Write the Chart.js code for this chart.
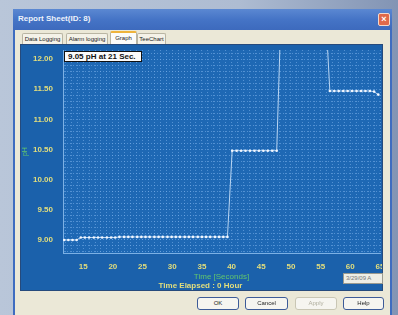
<!DOCTYPE html>
<html>
<head>
<meta charset="utf-8">
<script src="https://cdn.jsdelivr.net/npm/chart.js@4/dist/chart.umd.min.js"></script>
<style>
  html, body { margin: 0; padding: 0; }
  body {
    width: 398px; height: 315px; overflow: hidden; position: relative;
    background: linear-gradient(90deg, #b9c6d9 0%, #aebcd2 60%, #8294b4 100%);
    font-family: "Liberation Sans", Arial, sans-serif;
  }
  .abs { position: absolute; box-sizing: border-box; }
  #dlg { left: 13px; top: 9px; width: 379px; height: 320px; background: #ebe8d7;
         border: 2px solid #3e6cc0; border-top: none; }
  #titlebar { left: 13px; top: 9px; width: 379px; height: 21px;
              background: linear-gradient(180deg, #5b88d2 0%, #4574c6 50%, #3d6abd 100%); }
  #titlebar span { position: absolute; left: 5px; top: 5px; color: #eef3fb; font-size: 8px; font-weight: bold; }
  #close { left: 378px; top: 13px; width: 12px; height: 13px; background: #e0694a;
           border: 1px solid #f3d8cc; border-radius: 2px; color: #fff; font-size: 9px;
           font-weight: bold; text-align: center; line-height: 11px; }
  .tab { top: 33px; height: 11px; background: #f4f2e8; border: 1px solid #b9b5a3; border-bottom: none;
         font-size: 6px; color: #222; text-align: center; line-height: 10px; border-radius: 2px 2px 0 0; }
  .tab.on { top: 31px; height: 14px; background: #fcfcfa; border-top: 2px solid #efb43c; line-height: 11px; }
  #panel { left: 20px; top: 44px; width: 363px; height: 247px; background: #1b61ab;
           border: 1px solid #264a7c; overflow: hidden; }
  #chartBox { position: absolute; left: 0; top: 0; width: 370px; height: 246px; }
  #note { left: 64px; top: 51px; width: 78px; height: 11px; background: #fbfbfb; border: 1px solid #111;
          font-size: 8px; font-weight: bold; color: #111; line-height: 9px; padding-left: 3px; white-space: nowrap; }
  #stamp { left: 343px; top: 273px; width: 40px; height: 11px; background: #eeeee6; border: 1px solid #9a9a90;
           font-size: 6px; color: #777; line-height: 9px; padding-left: 2px; white-space: nowrap; overflow: hidden; }
  .btn { top: 297px; height: 13px; background: #f6f5f0; border: 1px solid #3d5b98; border-radius: 3px;
         font-size: 6px; color: #222; text-align: center; line-height: 11px; }
  .btn.off { color: #b0ae9e; border-color: #c9c6b4; }
</style>
</head>
<body>
<div class="abs" id="dlg"></div>
<div class="abs" id="titlebar"><span>Report Sheet(ID: 8)</span></div>
<div class="abs" id="close">×</div>
<div class="abs tab" style="left:22px;width:41px;">Data Logging</div>
<div class="abs tab" style="left:66px;width:42px;">Alarm logging</div>
<div class="abs tab on" style="left:110px;width:27px;">Graph</div>
<div class="abs tab" style="left:137px;width:29px;">TeeChart</div>
<div class="abs" id="panel"><div id="chartBox"><canvas id="phChart"></canvas></div></div>
<div class="abs" id="note">9.05 pH at 21 Sec.</div>
<div class="abs" id="stamp">3/29/09 A</div>
<div class="abs btn" style="left:197px;width:42px;">OK</div>
<div class="abs btn" style="left:245px;width:43px;">Cancel</div>
<div class="abs btn off" style="left:295px;width:42px;">Apply</div>
<div class="abs btn" style="left:343px;width:41px;">Help</div>

<script>
// lecturas del sensor (segundos, pH)
const timeSec = [
  11.8, 12.5, 13.2, 13.9,
  14.6, 15.3, 16.0, 16.8, 17.5, 18.2, 19.0, 19.7, 20.4, 21.1, 21.9, 22.6, 23.3, 24.1, 24.8, 25.5,
  26.2, 27.0, 27.7, 28.4, 29.2, 29.9, 30.6, 31.3, 32.1, 32.8, 33.5, 34.3, 35.0, 35.7, 36.4, 37.2,
  37.9, 38.6, 39.3,
  40.1, 40.85, 41.6, 42.35, 43.1, 43.85, 44.6, 45.35, 46.1, 46.85, 47.6,
  48.3, 49.0, 49.8, 50.5, 51.2, 52.0, 52.7, 53.4, 54.2, 54.9, 55.8,
  56.55, 57.3, 58.05, 58.8, 59.55, 60.3, 61.05, 61.8, 62.55, 63.3, 64.0, 64.7
];
const phValues = [
  9.00, 9.00, 9.00, 9.00,
  9.04, 9.04, 9.04, 9.04, 9.04, 9.04, 9.04, 9.04, 9.04, 9.05, 9.05, 9.05, 9.05, 9.05, 9.05, 9.05,
  9.05, 9.05, 9.05, 9.05, 9.05, 9.05, 9.05, 9.05, 9.05, 9.05, 9.05, 9.05, 9.05, 9.05, 9.05, 9.05,
  9.05, 9.05, 9.05,
  10.48, 10.48, 10.48, 10.48, 10.48, 10.48, 10.48, 10.48, 10.48, 10.48, 10.48,
  12.7, 13.1, 13.3, 13.4, 13.4, 13.3, 13.3, 13.2, 13.1, 13.0, 12.85,
  11.47, 11.47, 11.47, 11.47, 11.47, 11.47, 11.47, 11.47, 11.47, 11.47, 11.46, 11.41
];
const xTickLabels = [15, 20, 25, 30, 35, 40, 45, 50, 55, 60, 65];
const yTickLabels = [9.0, 9.5, 10.0, 10.5, 11.0, 11.5, 12.0];

const X_MIN = 11.6, X_MAX = 65;
const Y_MIN = 8.78, Y_MAX = 12.15;

Chart.defaults.font.family = '"Liberation Sans", Arial, sans-serif';

const TICK_YELLOW = "#e3de7c";
const GRID_BLUE = "rgba(125,178,236,0.55)";

const plotBg = {
  id: "plotBg",
  beforeDraw(chart) {
    const { ctx, chartArea: a } = chart;
    ctx.save();
    ctx.fillStyle = "#1e68b4";
    ctx.fillRect(a.left, a.top, a.right - a.left, a.bottom - a.top);
    ctx.restore();
  }
};

new Chart(document.getElementById("phChart"), {
  type: "line",
  data: {
    datasets: [{
      label: "pH",
      data: timeSec.map((t, i) => ({ x: t, y: phValues[i] })),
      borderColor: "#b9d5f2",
      borderWidth: 1,
      pointRadius: 1.3,
      pointBorderWidth: 0,
      pointBackgroundColor: "#f2f7ff",
      tension: 0
    }]
  },
  options: {
    responsive: true,
    maintainAspectRatio: false,
    animation: false,
    layout: { padding: { top: 5, right: 11, bottom: 0, left: 0 } },
    plugins: {
      legend: { display: false },
      tooltip: { enabled: false },
      title: {
        display: true,
        position: "bottom",
        text: "Time Elapsed : 0 Hour",
        color: TICK_YELLOW,
        padding: 0,
        font: { size: 8, weight: "bold" }
      }
    },
    scales: {
      x: {
        type: "linear",
        min: X_MIN,
        max: X_MAX,
        afterBuildTicks: (axis) => {
          const t = [];
          for (let v = 12; v <= 65; v++) t.push({ value: v });
          axis.ticks = t;
        },
        ticks: {
          autoSkip: false,
          maxRotation: 0,
          padding: 0,
          color: TICK_YELLOW,
          font: { size: 8, weight: "bold" },
          callback: (v) => (xTickLabels.includes(v) ? String(v) : "")
        },
        // espacio etiqueta-eje con marca invisible (el padding de ticks desplaza el área)
        grid: { color: GRID_BLUE, drawTicks: true, tickLength: 9, tickColor: "rgba(0,0,0,0)" },
        border: { display: true, color: "#7cb0e4", dash: [1, 2] },
        title: {
          display: true,
          text: "Time [Seconds]",
          color: "#62c66c",
          padding: 0,
          font: { size: 8 }
        }
      },
      y: {
        type: "linear",
        min: Y_MIN,
        max: Y_MAX,
        afterFit: (axis) => { axis.width = 42; },
        afterBuildTicks: (axis) => {
          const t = [];
          for (let k = 88; k <= 121; k++) t.push({ value: k / 10 });
          axis.ticks = t;
        },
        ticks: {
          autoSkip: false,
          padding: 0,
          color: TICK_YELLOW,
          font: { size: 8, weight: "bold" },
          callback: (v) => (yTickLabels.some((l) => Math.abs(l - v) < 1e-6) ? Number(v).toFixed(2) : "")
        },
        grid: { color: GRID_BLUE, drawTicks: true, tickLength: 10, tickColor: "rgba(0,0,0,0)" },
        border: { display: true, color: "#7cb0e4", dash: [1, 2] },
        title: {
          display: true,
          text: "pH",
          color: "#62c66c",
          padding: 0,
          font: { size: 7 }
        }
      }
    }
  },
  plugins: [plotBg]
});
</script>
</body>
</html>
